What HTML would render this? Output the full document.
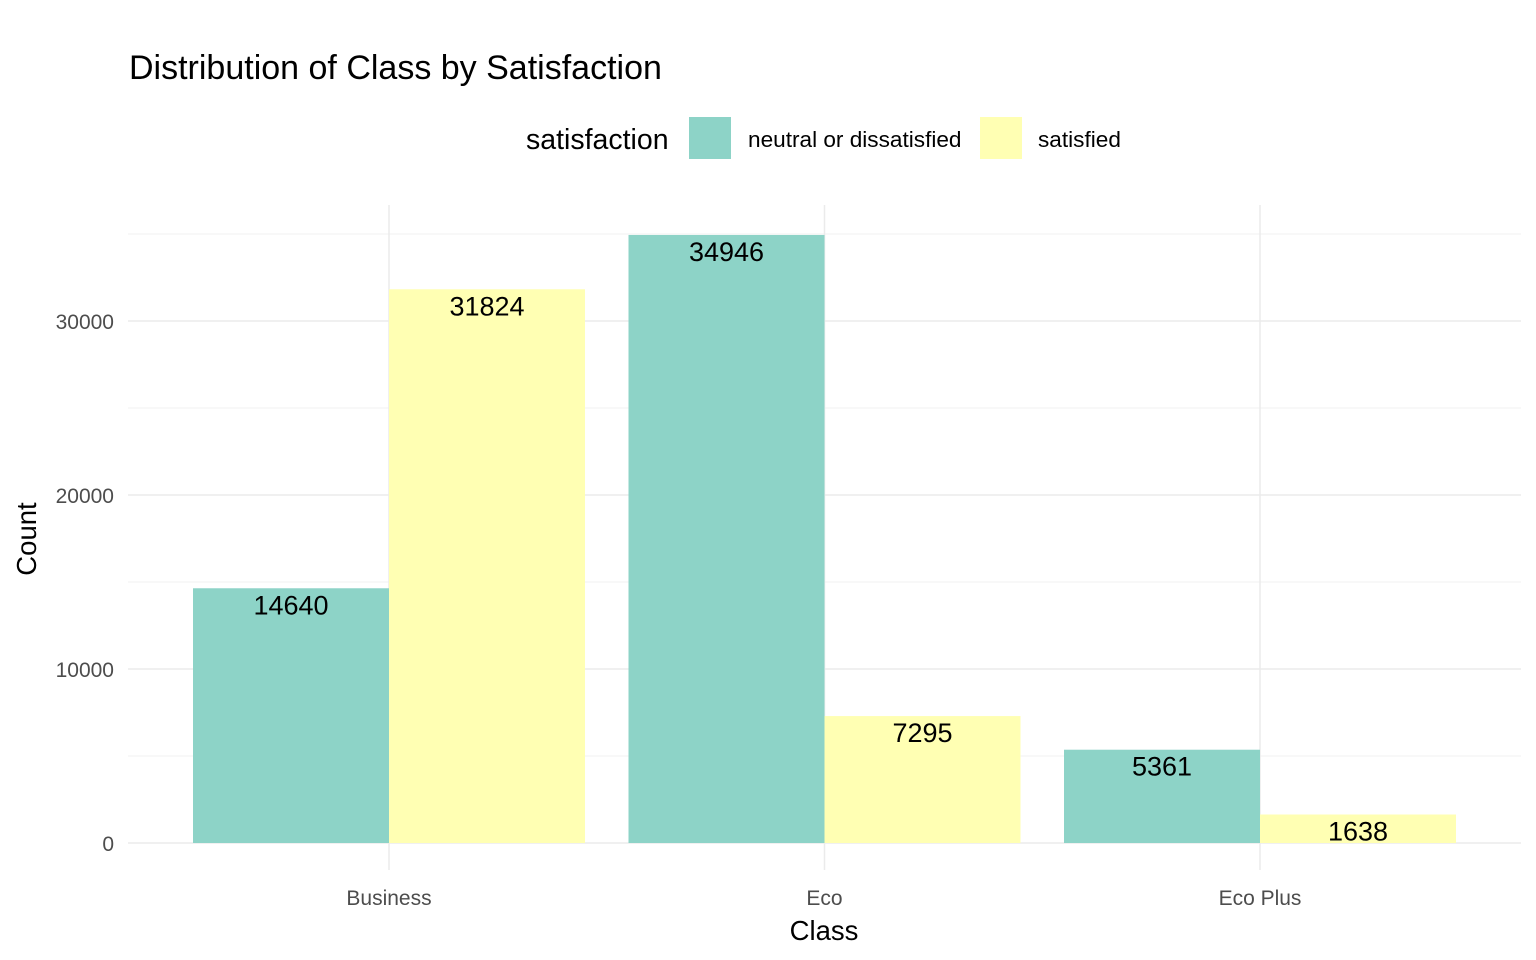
<!DOCTYPE html>
<html><head><meta charset="utf-8"><style>
html,body{margin:0;padding:0;background:#fff;}
svg{display:block;font-family:"Liberation Sans",Arial,sans-serif;}
</style></head><body>
<svg id="chart" width="1536" height="960" viewBox="0 0 1536 960">
<text x="129" y="79" font-size="34" fill="#000">Distribution of Class by Satisfaction</text>
<g>
<text x="526" y="149" font-size="28.5" fill="#000">satisfaction</text>
<rect x="689" y="117" width="42" height="42" fill="#8DD3C7"/>
<text x="748" y="147" font-size="22.6" fill="#000">neutral or dissatisfied</text>
<rect x="980" y="117" width="42" height="42" fill="#FFFFB3"/>
<text x="1038" y="147" font-size="22.6" fill="#000">satisfied</text>
</g>
<g id="grid"></g>
<g id="bars"></g>
<g id="labels"></g>
<g id="axes"></g>
<text x="824" y="940" font-size="27.5" text-anchor="middle" fill="#000">Class</text>
<text transform="translate(36,539) rotate(-90)" font-size="27.5" text-anchor="middle" fill="#000">Count</text>
</svg>
<script>
const categories = ["Business", "Eco", "Eco Plus"];
const neutralValues = [14640, 34946, 5361];
const satisfiedValues = [31824, 7295, 1638];
const yTicks = [0, 10000, 20000, 30000];
const yMinor = [5000, 15000, 25000, 35000];

const NS = "http://www.w3.org/2000/svg";
const pLeft = 128, pRight = 1521, pTop = 205, pBottom = 870;
const y0 = 843, pxPer = 522 / 30000;
const yScale = v => y0 - v * pxPer;
const step = 435.5, firstX = 389;
const xScale = i => firstX + i * step;
const bw = 196;
function mk(tag, attrs, parent) {
  const e = document.createElementNS(NS, tag);
  for (const k in attrs) e.setAttribute(k, attrs[k]);
  parent.appendChild(e); return e;
}
const grid = document.getElementById('grid');
yMinor.forEach(v => {
  const l = mk('line', {x1: pLeft, x2: pRight, y1: yScale(v), y2: yScale(v), stroke: '#f2f2f2', 'stroke-width': 1}, grid);
  
  
});
yTicks.forEach(v => {
  const l = mk('line', {x1: pLeft, x2: pRight, y1: yScale(v), y2: yScale(v), stroke: '#ebebeb', 'stroke-width': 1.5}, grid);
  
  
});
categories.forEach((c, i) => {
  const l = mk('line', {x1: xScale(i), x2: xScale(i), y1: pTop, y2: pBottom, stroke: '#ebebeb', 'stroke-width': 1.5}, grid);
  
  
});
const bars = document.getElementById('bars');
const labels = document.getElementById('labels');
const series = [[neutralValues, '#8DD3C7', -1, 'neutral'], [satisfiedValues, '#FFFFB3', 0, 'satisfied']];
series.forEach(([vals, col, off, nm]) => {
  vals.forEach((v, i) => {
    const bx = xScale(i) + off * bw;
    const r = mk('rect', {x: bx, y: yScale(v), width: bw, height: yScale(0) - yScale(v), fill: col}, bars);
    
    
    const t = mk('text', {x: bx + bw / 2, y: yScale(v) + 26, 'font-size': 27, 'text-anchor': 'middle', fill: '#000'}, labels);
    t.textContent = v;
    
    
  });
});
const axes = document.getElementById('axes');
yTicks.forEach(v => {
  const t = mk('text', {x: 114, y: yScale(v) + 8, 'font-size': 21, 'text-anchor': 'end', fill: '#4d4d4d'}, axes);
  t.textContent = v;
  
  
});
categories.forEach((c, i) => {
  const t = mk('text', {x: xScale(i), y: 905, 'font-size': 21, 'text-anchor': 'middle', fill: '#4d4d4d'}, axes);
  t.textContent = c;
  
  
});
</script>
</body></html>
